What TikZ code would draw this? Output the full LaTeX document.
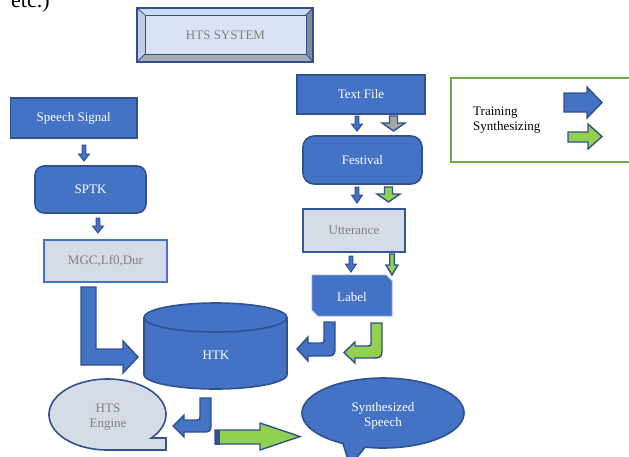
\documentclass[tikz,border=0pt]{standalone}
\usepackage{fontspec}
\setmainfont{Liberation Serif}
\definecolor{bfill}{HTML}{4472C4}
\definecolor{bdark}{HTML}{2F528F}
\definecolor{lfill}{HTML}{D6DCE5}
\definecolor{gtext}{HTML}{7F7F7F}
\definecolor{gfill}{HTML}{92D050}
\definecolor{lgreen}{HTML}{70AD47}
\definecolor{sysfill}{HTML}{DAE3F3}
\definecolor{bevtop}{HTML}{D0DAEE}
\definecolor{bevleft}{HTML}{C3CFE8}
\definecolor{bevright}{HTML}{858B95}
\definecolor{bevbot}{HTML}{A6ACB6}
\definecolor{agray}{HTML}{A5A5A5}
\newcommand\blockdown[7]{%
  \draw[#7] ({#1-#5},#2) -- ({#1+#5},#2) -- ({#1+#5},#3) -- ({#1+#6},#3) -- (#1,#4) -- ({#1-#6},#3) -- ({#1-#5},#3) -- cycle;}
\begin{document}
\begin{tikzpicture}[x=1pt,y=-1pt,
  every node/.style={font=\fontsize{13pt}{15pt}\selectfont, inner sep=0pt},
  bluebox/.style={draw=bdark, line width=1.6pt, fill=bfill, text=white},
  lightbox/.style={line width=1.4pt, fill=lfill, text=gtext},
  barrow/.style={draw=bdark, line width=1.4pt, fill=bfill, line join=miter},
  sarrow/.style={draw=bdark, line width=1pt, fill=bfill, line join=miter},
  garrow/.style={draw=bdark, line width=1.4pt, fill=gfill, line join=miter},
  grarrow/.style={draw=bdark, line width=1.4pt, fill=agray, line join=miter},
  wtext/.style={text=white, align=center},
  gtxt/.style={text=gtext, align=center}
]
\useasboundingbox (0,0) rectangle (629,456);

% leftover text at top
\node[anchor=base west, font=\fontsize{22pt}{26pt}\selectfont] (etc) at (11,7) {etc.)};

% HTS SYSTEM bevel box
\fill[sysfill] (145,15) rectangle (306,54);
\fill[bevtop] (137,8) -- (313,8) -- (306,15) -- (145,15) -- cycle;
\fill[bevleft] (137,8) -- (145,15) -- (145,54) -- (137,62) -- cycle;
\fill[bevright] (313,8) -- (313,62) -- (306,54) -- (306,15) -- cycle;
\fill[bevbot] (137,62) -- (313,62) -- (306,54) -- (145,54) -- cycle;
\draw[bdark, line width=0.8pt] (137,8) -- (145,15) (313,8) -- (306,15) (313,62) -- (306,54) (137,62) -- (145,54);
\draw[bdark, line width=1pt] (145,15) rectangle (306,54);
\draw[bdark, line width=1.6pt] (137,8) rectangle (313,62);
\node[gtxt] (sys) at (225.5,35) {HTS SYSTEM};

% left column
\node[bluebox, minimum width=126.5pt, minimum height=40pt] (speech) at (73.75,118) {Speech Signal};
\node[bluebox, rounded corners=9pt, minimum width=111pt, minimum height=47pt] (sptk) at (90.5,189.5) {SPTK};
\node[lightbox, draw=bfill, minimum width=123pt, minimum height=42pt] (mgc) at (105.5,261) {MGC,Lf0,Dur};
\blockdown{84}{145}{154}{161}{1.8}{5.5}{sarrow}
\blockdown{98}{218}{226}{233}{1.8}{5.5}{sarrow}

% big L arrow MGC -> HTK
\draw[barrow] (81,287) -- (96,287) -- (96,349) -- (123,349) -- (123,341) -- (138,357) -- (123,373) -- (123,365) -- (81,365) -- cycle;

% HTK cylinder
\fill[bfill] (144,317.5) rectangle (287,374.5);
\fill[bfill] (215.5,374.5) ellipse[x radius=71.5, y radius=14.5];
\draw[bdark, line width=1.6pt] (144,317.5) -- (144,374.5) -- plot[domain=180:0, samples=60] ({215.5+71.5*cos(\x)},{374.5+14.5*sin(\x)}) -- (287,317.5);
\draw[bdark, line width=1.6pt, fill=bfill] (215.5,317.5) ellipse[x radius=71.5, y radius=14.5];
\node[wtext] (htk) at (216,355) {HTK};

% HTS Engine bubble
\path[draw=bdark, line width=1.6pt, fill=lfill] plot[domain=41.5:-270, samples=90] ({107.5+58.5*cos(\x)},{414.5+35.5*sin(\x)}) -- (166,450) -- (166,438) -- cycle;
\node[gtxt] (engine) at (108,417) {HTS\\Engine};

% bent arrow HTK -> HTS Engine
\draw[barrow] (200,398) -- (211,398) -- (211,422) .. controls (211,432) .. (201,432) -- (184,432) -- (184,437) -- (173,426) -- (184,415) -- (184,420) -- (195,420) .. controls (200,420) .. (200,415) -- cycle;

% green arrow to synthesized speech
\draw[garrow] (215,430) -- (260,430) -- (260,423) -- (300,436.5) -- (260,450) -- (260,444) -- (215,444) -- cycle;
\fill[bdark] (214.5,429.5) rectangle (220,444.5);

% Synthesized Speech bubble
\path[draw=bdark, line width=1.6pt, fill=bfill] plot[domain=102.8:-240.4, samples=100] ({383+81*cos(\x)},{413+35*sin(\x)}) -- (350,466) -- cycle;
\node[wtext] (synth) at (383,415.5) {Synthesized\\Speech};

% right column
\node[bluebox, minimum width=128pt, minimum height=39pt] (text) at (361,94.5) {Text File};
\node[bluebox, rounded corners=11pt, minimum width=119pt, minimum height=48pt] (fest) at (362.5,160) {Festival};
\node[lightbox, draw=bdark!80!bfill, minimum width=102pt, minimum height=43pt] (utt) at (354,230.5) {Utterance};
\blockdown{357}{116}{124}{131}{1.8}{5.5}{sarrow}
\blockdown{393.5}{116}{123}{131}{4}{11.5}{grarrow}
\blockdown{357}{187}{195}{203}{1.8}{5.5}{sarrow}
\blockdown{388.5}{187}{194}{202}{4}{11.5}{garrow}
\blockdown{351}{256}{264}{272}{1.8}{5.5}{sarrow}
\blockdown{392}{254}{265}{275}{2.3}{6}{garrow}

% Label snipped box
\draw[draw=bfill!60!white, line width=0.8pt, fill=bfill] (312,275) -- (386,275) -- (392,281) -- (392,316) -- (318,316) -- (312,310) -- cycle;
\node[wtext] (label) at (352,297) {Label};

% bent arrows Label -> HTK
\draw[barrow] (324,322) -- (335,322) -- (335,344) .. controls (335,356) .. (323,356) -- (308,356) -- (308,361) -- (297,349) -- (308,337) -- (308,343) -- (319,343) .. controls (324,343) .. (324,338) -- cycle;
\draw[garrow] (371,323) -- (382,323) -- (382,346) .. controls (382,358) .. (370,358) -- (355,358) -- (355,363) -- (344,352.5) -- (355,342) -- (355,346) -- (366,346) .. controls (371,346) .. (371,341) -- cycle;

% legend
\draw[lgreen, line width=2.6pt] (640,78) -- (451,78) -- (451,162) -- (640,162);
\node[anchor=west, align=left] (leg) at (473,120.5) {Training\\Synthesizing};
\draw[barrow] (564,93) -- (587,93) -- (587,87) -- (602,102.5) -- (587,118) -- (587,112) -- (564,112) -- cycle;
\draw[garrow] (568,132) -- (588,132) -- (588,124) -- (602,136.5) -- (588,149) -- (588,142) -- (568,142) -- cycle;
\end{tikzpicture}
\end{document}
